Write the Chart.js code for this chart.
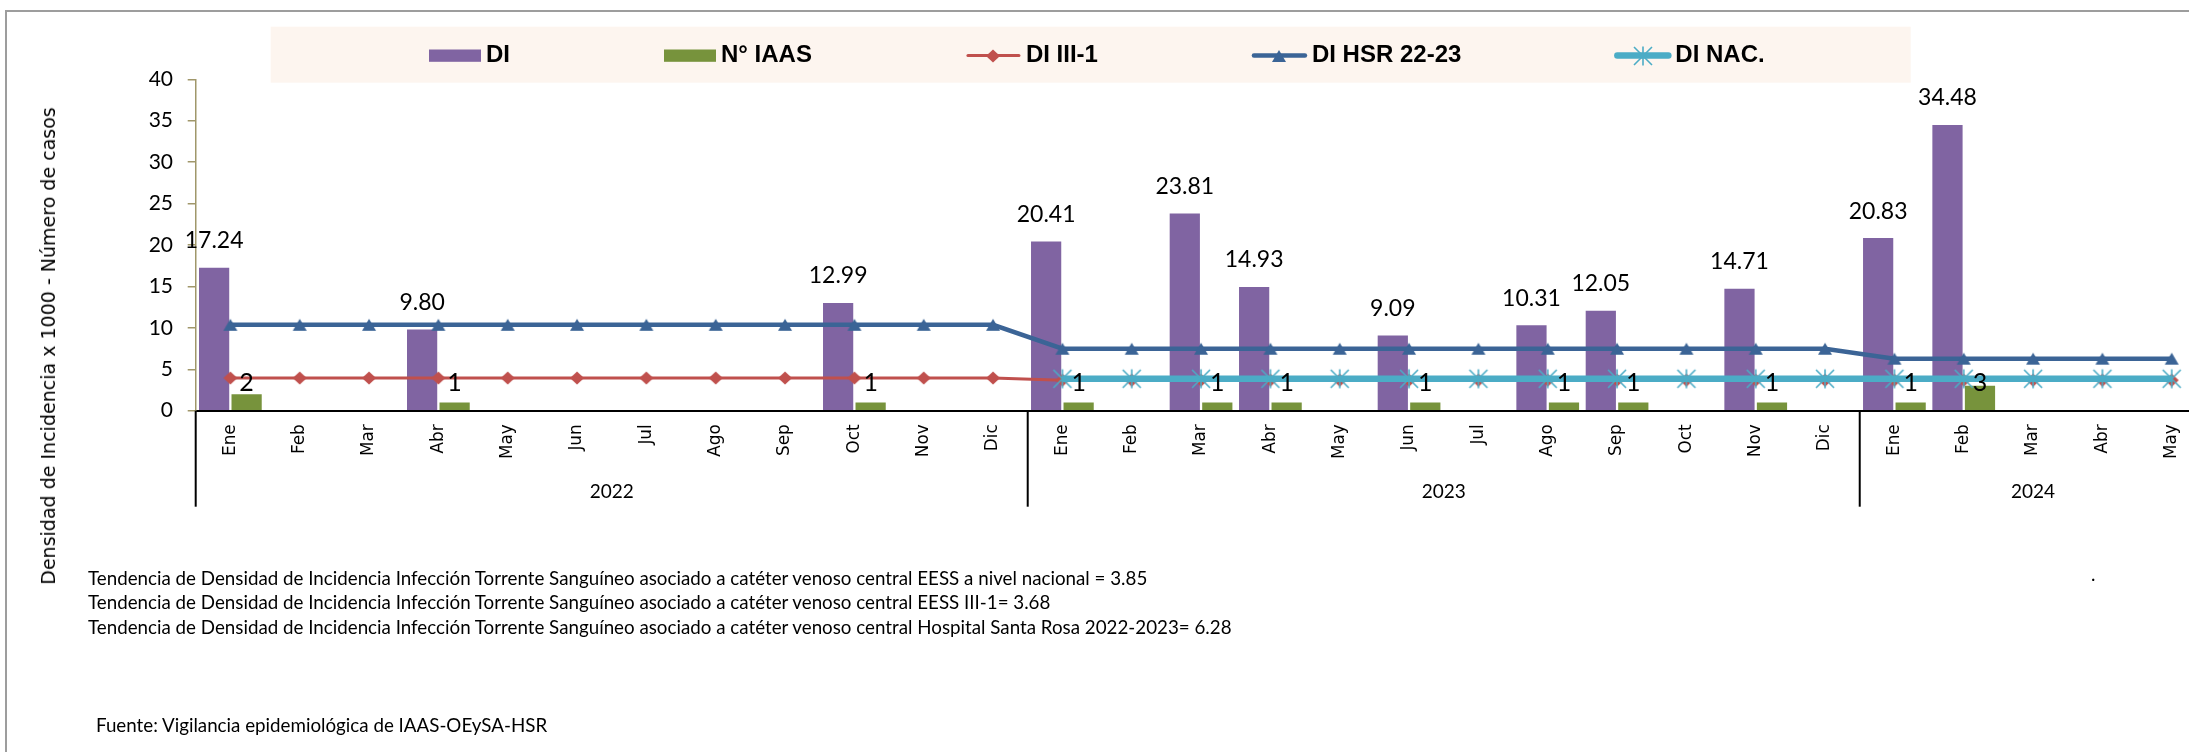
<!DOCTYPE html>
<html>
<head>
<meta charset="utf-8">
<script src="https://cdn.jsdelivr.net/npm/chart.js@4.4.1/dist/chart.umd.min.js"></script>
<style>
html,body{margin:0;padding:0;background:#fff;overflow:hidden;width:2189px;height:752px;}
#frame{position:absolute;left:5px;top:10px;width:3000px;height:2000px;border-left:2px solid #9d9d9d;border-top:2px solid #9d9d9d;}
#wrap{position:absolute;left:0;top:0;width:2230px;height:752px;}
.note{position:absolute;font-family:Lato,sans-serif;font-size:18.7px;line-height:24px;color:#000;white-space:nowrap;}
#ytitle{position:absolute;left:48px;top:346px;transform:translate(-50%,-50%) rotate(-90deg);font-family:"DejaVu Sans",Verdana,sans-serif;font-size:19px;line-height:22px;white-space:nowrap;color:#000;}
</style>
</head>
<body>
<div id="frame"></div>
<div id="wrap"><canvas id="c"></canvas></div>
<div id="ytitle">Densidad de Incidencia x 1000 - Número de casos</div>
<div class="note" id="n1" style="left:88px;top:566px">Tendencia de Densidad de Incidencia Infección Torrente Sanguíneo asociado a catéter venoso central EESS a nivel nacional = 3.85</div>
<div class="note" style="left:88px;top:590px">Tendencia de Densidad de Incidencia Infección Torrente Sanguíneo asociado a catéter venoso central EESS III-1= 3.68</div>
<div class="note" style="left:88px;top:615px">Tendencia de Densidad de Incidencia Infección Torrente Sanguíneo asociado a catéter venoso central Hospital Santa Rosa 2022-2023= 6.28</div>
<div class="note" style="left:2091px;top:562px">.</div>
<div class="note" style="left:96px;top:713px">Fuente: Vigilancia epidemiológica de IAAS-OEySA-HSR</div>
<script>
// ---------- DATA ----------
const months = ['Ene','Feb','Mar','Abr','May','Jun','Jul','Ago','Sep','Oct','Nov','Dic',
                'Ene','Feb','Mar','Abr','May','Jun','Jul','Ago','Sep','Oct','Nov','Dic',
                'Ene','Feb','Mar','Abr','May'];
const years = ['2022','2023','2024'];
const monthsPerYear = [12, 12, 5];

const diValues   = [17.24,null,null,9.80,null,null,null,null,null,12.99,null,null,
                    20.41,null,23.81,14.93,null,9.09,null,10.31,12.05,null,14.71,null,
                    20.83,34.48,null,null,null];
const iaasValues = [2,null,null,1,null,null,null,null,null,1,null,null,
                    1,null,1,1,null,1,null,1,1,null,1,null,
                    1,3,null,null,null];
const diIII1     = [3.94,3.94,3.94,3.94,3.94,3.94,3.94,3.94,3.94,3.94,3.94,3.94,
                    3.68,3.68,3.68,3.68,3.68,3.68,3.68,3.68,3.68,3.68,3.68,3.68,
                    3.68,3.68,3.68,3.68,3.68];
const diHSR      = [10.37,10.37,10.37,10.37,10.37,10.37,10.37,10.37,10.37,10.37,10.37,10.37,
                    7.48,7.48,7.48,7.48,7.48,7.48,7.48,7.48,7.48,7.48,7.48,7.48,
                    6.28,6.28,6.28,6.28,6.28];
const diNAC      = [null,null,null,null,null,null,null,null,null,null,null,null,
                    3.85,3.85,3.85,3.85,3.85,3.85,3.85,3.85,3.85,3.85,3.85,3.85,
                    3.85,3.85,3.85,3.85,3.85];
const yMin = 0, yMax = 40, yStep = 5;

// ---------- STYLE ----------
const C_PURPLE = '#8064A2', C_GREEN = '#77933C', C_RED = '#C0504D', C_BLUE = '#3B6496', C_CYAN = '#4BACC6';
const C_AXIS = '#A0976A';
const MONTH_FAMILY = '"DejaVu Sans", Verdana, sans-serif';

// size a DOM text so its laid-out width equals target
function fitDom(el, target) {
  const fs = parseFloat(getComputedStyle(el).fontSize);
  const w = el.offsetWidth;
  return fs * target / w;
}
// month-label font size so that sample labels total the reference length
function monthFontSize() {
  const g = document.createElement('canvas').getContext('2d');
  g.font = '100px ' + MONTH_FAMILY;
  const sample = ['Ene','Feb','Mar','May','Oct','Nov','Dic'];
  const w = sample.reduce((s, t) => s + g.measureText(t).width, 0);
  return 100 * 217 / w;
}

function mk(w, h, fn){ const c = document.createElement('canvas'); c.width = w; c.height = h; fn(c.getContext('2d')); return c; }
const triImg = mk(16, 16, g => { g.fillStyle = C_BLUE; g.beginPath(); g.moveTo(8,2); g.lineTo(15,14); g.lineTo(1,14); g.closePath(); g.fill(); });
const diaImg = mk(16, 14, g => { g.fillStyle = C_RED; g.beginPath(); g.moveTo(8,0.5); g.lineTo(15,7); g.lineTo(8,13.5); g.lineTo(1,7); g.closePath(); g.fill(); });
const starImg = mk(22, 22, g => { g.strokeStyle = C_CYAN; g.lineWidth = 1.6; g.beginPath();
  g.moveTo(2,2); g.lineTo(20,20); g.moveTo(20,2); g.lineTo(2,20); g.moveTo(11,1.5); g.lineTo(11,20.5); g.stroke(); });

const valueLabels = {
  id: 'valueLabels',
  afterDatasetsDraw(chart) {
    const ctx = chart.ctx, y = chart.scales.y;
    ctx.save();
    ctx.fillStyle = '#000'; ctx.textAlign = 'center'; ctx.textBaseline = 'middle';
    ctx.font = '23px Lato';
    chart.getDatasetMeta(0).data.forEach((bar, i) => {
      const v = chart.data.datasets[0].data[i];
      if (v == null) return;
      ctx.fillText(v.toFixed(2), bar.x, bar.y - 27);
    });
    ctx.font = '25px Lato';
    const base = y.getPixelForValue(0);
    chart.getDatasetMeta(1).data.forEach((bar, i) => {
      const v = chart.data.datasets[1].data[i];
      if (v == null) return;
      ctx.fillText(String(v), bar.x, base - 27.3);
    });
    ctx.restore();
  }
};

const yearGroups = {
  id: 'yearGroups',
  afterDraw(chart) {
    const ctx = chart.ctx, x = chart.scales.x, ca = chart.chartArea;
    const half = (x.getPixelForValue(1) - x.getPixelForValue(0)) / 2;
    ctx.save();
    ctx.strokeStyle = '#000'; ctx.lineWidth = 2;
    ctx.fillStyle = '#000'; ctx.font = '19px Lato'; ctx.textAlign = 'center'; ctx.textBaseline = 'middle';
    let idx = 0;
    years.forEach((yr, k) => {
      const n = monthsPerYear[k];
      const left = x.getPixelForValue(idx) - half;
      const right = x.getPixelForValue(idx + n - 1) + half;
      ctx.beginPath(); ctx.moveTo(left, ca.bottom); ctx.lineTo(left, ca.bottom + 96); ctx.stroke();
      if (k === years.length - 1) { ctx.beginPath(); ctx.moveTo(right, ca.bottom); ctx.lineTo(right, ca.bottom + 96); ctx.stroke(); }
      ctx.fillText(yr, (left + right) / 2, ca.bottom + 81.5);
      idx += n;
    });
    ctx.restore();
  }
};

const xlLegend = {
  id: 'xlLegend',
  beforeDraw(chart) {
    const ctx = chart.ctx;
    ctx.save();
    ctx.fillStyle = '#FDF5EF';
    ctx.fillRect(270.7, 26.7, 1640, 56);
    ctx.font = 'bold 24px "Liberation Sans", Arial, sans-serif';
    ctx.textBaseline = 'middle'; ctx.textAlign = 'left';
    const cy = 55.5;
    let xp = 429;
    chart.data.datasets.forEach(ds => {
      if (ds.type === 'bar') {
        ctx.fillStyle = ds.backgroundColor;
        ctx.fillRect(xp, cy - 6, 52, 12.3);
        xp += 52;
      } else {
        ctx.strokeStyle = ds.borderColor; ctx.lineWidth = ds.borderWidth; ctx.lineCap = 'round';
        ctx.beginPath(); ctx.moveTo(xp + 2, cy); ctx.lineTo(xp + 53, cy); ctx.stroke();
        const im = ds.pointStyle;
        ctx.drawImage(im, Math.round(xp + 27.5 - im.width / 2), Math.round(cy - im.height / 2));
        xp += 55;
      }
      xp += 5;
      ctx.fillStyle = '#000';
      ctx.fillText(ds.label, xp, cy);
      xp += ctx.measureText(ds.label).width + 154;
    });
    ctx.restore();
  }
};

function draw() {
  const yt = document.getElementById('ytitle');
  yt.style.fontSize = fitDom(yt, 478) + 'px';
  const ns = fitDom(document.getElementById('n1'), 1059);
  document.querySelectorAll('.note').forEach(n => n.style.fontSize = ns + 'px');
  const mfs = monthFontSize();

  new Chart(document.getElementById('c'), {
    type: 'bar',
    data: {
      labels: months,
      datasets: [
        { type: 'bar', label: 'DI', data: diValues, backgroundColor: C_PURPLE, order: 9,
          categoryPercentage: 0.9375, barPercentage: 0.93 },
        { type: 'bar', label: 'N° IAAS', data: iaasValues, backgroundColor: C_GREEN, order: 10,
          categoryPercentage: 0.9375, barPercentage: 0.93 },
        { type: 'line', label: 'DI III-1', data: diIII1, borderColor: C_RED, backgroundColor: C_RED,
          borderWidth: 3, pointStyle: diaImg, pointRadius: 7, order: 3, tension: 0 },
        { type: 'line', label: 'DI HSR 22-23', data: diHSR, borderColor: C_BLUE, backgroundColor: C_BLUE,
          borderWidth: 4.5, pointStyle: triImg, pointRadius: 8, order: 2, tension: 0 },
        { type: 'line', label: 'DI NAC.', data: diNAC, borderColor: C_CYAN, backgroundColor: C_CYAN,
          borderWidth: 6.5, pointStyle: starImg, pointRadius: 10, order: 1, tension: 0 }
      ]
    },
    options: {
      responsive: true, maintainAspectRatio: false, animation: false, devicePixelRatio: 1,
      events: [],
      layout: { padding: { top: 79.3, right: 23.6, left: 0, bottom: 0 } },
      plugins: { legend: { display: false }, tooltip: { enabled: false } },
      scales: {
        x: {
          type: 'category', offset: true,
          grid: { display: false, drawTicks: false },
          border: { display: true, color: '#000', width: 2 },
          ticks: { autoSkip: false, minRotation: 90, maxRotation: 90, padding: 13.6, color: '#000',
                   font: { family: MONTH_FAMILY, size: mfs } },
          afterFit(s) { s.height = 341.3; }
        },
        y: {
          min: yMin, max: yMax,
          ticks: { stepSize: yStep, padding: 14.7, color: '#000', font: { family: 'Lato', size: 21 } },
          grid: { drawOnChartArea: false, drawTicks: true, tickLength: 8, color: C_AXIS, lineWidth: 1.5 },
          border: { display: true, color: C_AXIS, width: 1.5 },
          afterFit(s) { s.width = 195.7; }
        }
      }
    },
    plugins: [xlLegend, valueLabels, yearGroups]
  });
}
const fl = ['21px Lato','bold 24px "Liberation Sans"','16.5px "DejaVu Sans"','19px "DejaVu Sans"'].map(f => document.fonts.load(f).catch(()=>{}));
Promise.all(fl).then(draw, draw);
</script>
</body>
</html>
